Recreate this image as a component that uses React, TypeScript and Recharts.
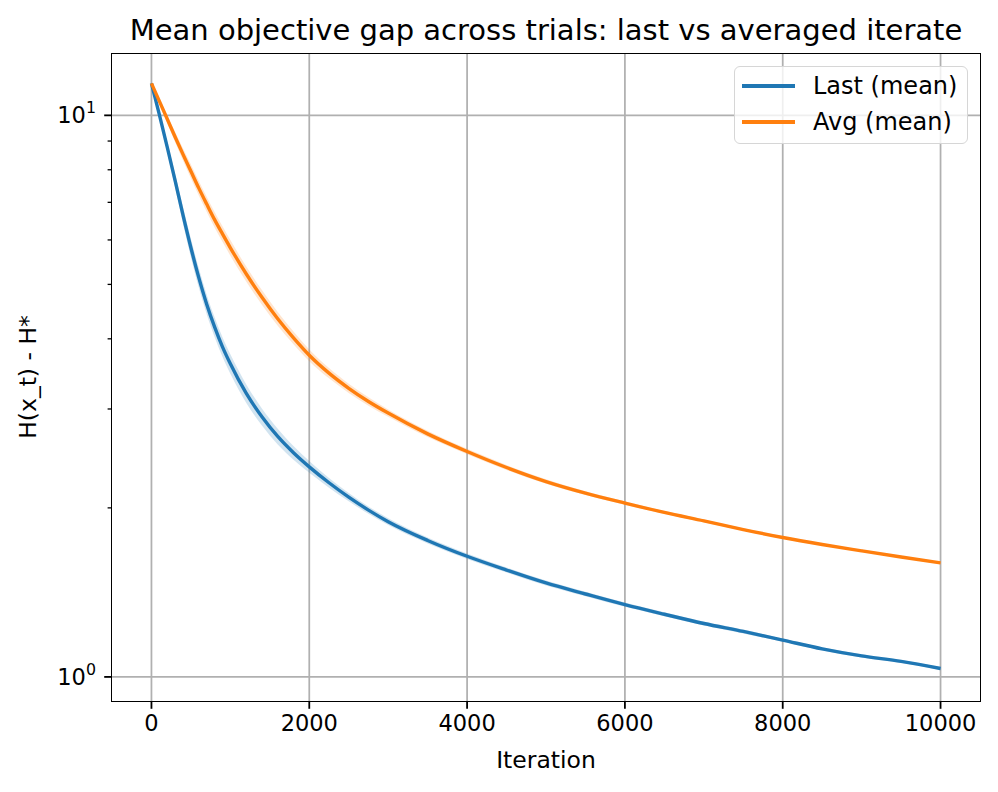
import React from "react"
import { ComposedChart, Line, Area, XAxis, YAxis, CartesianGrid } from "recharts"

const iterations = [
  0, 100, 200, 300, 400, 500, 600, 700, 800, 900, 1000, 1200, 1400, 1600, 1800, 2000, 2250, 2500, 2750,
  3000, 3500, 4000, 4500, 5000, 5500, 6000, 6500, 7000, 7500, 8000, 8500, 9000, 9500, 10000,
]

const lastMean = [
  11.4, 10.03, 8.78, 7.65, 6.64, 5.81, 5.14, 4.61, 4.2, 3.87, 3.61, 3.2, 2.905, 2.68, 2.507, 2.366, 2.217, 2.09,
  1.982, 1.89, 1.75, 1.64, 1.55, 1.47, 1.405, 1.345, 1.293, 1.245, 1.205, 1.163, 1.122, 1.09, 1.066, 1.035,
]

const avgMean = [
  11.4, 10.6, 9.85, 9.15, 8.52, 7.95, 7.42, 6.95, 6.52, 6.15, 5.81, 5.223, 4.743, 4.343, 4.016, 3.74, 3.475,
  3.266, 3.094, 2.95, 2.709, 2.52, 2.36, 2.228, 2.125, 2.04, 1.963, 1.896, 1.83, 1.771, 1.721, 1.677, 1.635,
  1.596,
]

// relative half-width of the shaded bands
const lastSpread = [
  0.005, 0.012, 0.02, 0.028, 0.034, 0.038, 0.04, 0.04, 0.04, 0.04, 0.04, 0.038, 0.035, 0.032, 0.028, 0.024,
  0.02, 0.017, 0.015, 0.014, 0.012, 0.011, 0.01, 0.01, 0.009, 0.009, 0.008, 0.008, 0.008, 0.007, 0.007, 0.007,
  0.006, 0.006,
]

const avgSpread = [
  0.003, 0.01, 0.016, 0.021, 0.025, 0.028, 0.03, 0.031, 0.032, 0.032, 0.032, 0.031, 0.03, 0.028, 0.026, 0.024,
  0.021, 0.019, 0.017, 0.015, 0.013, 0.011, 0.01, 0.009, 0.008, 0.007, 0.006, 0.006, 0.005, 0.005, 0.004, 0.004,
  0.004, 0.004,
]

const xTicks = [0, 2000, 4000, 6000, 8000, 10000]
const yMajor = [1, 10]
const yTicks = [1, 2, 3, 4, 5, 6, 7, 8, 9, 10]

const BLUE = "#1f77b4"
const ORANGE = "#ff7f0e"
const FONT = "DejaVu Sans"
const TICK_FS = 22.5

const data = iterations.map((it, i) => ({
  it,
  last: lastMean[i],
  avg: avgMean[i],
  lastBand: [lastMean[i] * (1 - lastSpread[i]), lastMean[i] * (1 + lastSpread[i])],
  avgBand: [avgMean[i] * (1 - avgSpread[i]), avgMean[i] * (1 + avgSpread[i])],
}))

function YTick(props: any) {
  const { x, y, payload } = props
  const major = yMajor.includes(payload.value)
  if (!major) {
    return <line x1={x - 4.4} x2={x} y1={y} y2={y} stroke="#000" strokeWidth={1.3} />
  }
  const exp = Math.round(Math.log10(payload.value))
  return (
    <g>
      <line x1={x - 7.8} x2={x} y1={y} y2={y} stroke="#000" strokeWidth={1.8} />
      <text x={x - 16} y={y + 8} textAnchor="end" fontFamily={FONT} fontSize={TICK_FS} fill="#000">
        10
        <tspan dy={-10} fontSize={15.8}>{exp}</tspan>
      </text>
    </g>
  )
}

export default function App() {
  return (
    <div style={{ position: "relative", width: 998, height: 792, background: "#fff", fontFamily: FONT }}>
      <style>{"body{margin:0}"}</style>
      <ComposedChart
        width={998}
        height={792}
        data={data}
        margin={{ top: 54, right: 18, left: 0, bottom: 0 }}
      >
        <CartesianGrid
          horizontalValues={yMajor}
          verticalValues={xTicks}
          stroke="#b0b0b0"
          strokeWidth={1.75}
          strokeDasharray=""
        />
        <XAxis
          dataKey="it"
          type="number"
          domain={[-500, 10500]}
          ticks={xTicks}
          allowDataOverflow
          height={91}
          axisLine={false}
          tickSize={7.8}
          tickMargin={6.5}
          tickLine={{ stroke: "#000", strokeWidth: 1.8 }}
          tick={{ fill: "#000", fontSize: TICK_FS, fontFamily: FONT }}
        />
        <YAxis
          scale="log"
          type="number"
          domain={[0.906, 12.86]}
          ticks={yTicks}
          allowDataOverflow
          width={112}
          axisLine={false}
          tickLine={false}
          tickSize={0}
          tickMargin={0}
          interval={0}
          tick={<YTick />}
        />
        <Area type="monotone" dataKey="lastBand" stroke="none" fill={BLUE} fillOpacity={0.2} isAnimationActive={false} />
        <Area type="monotone" dataKey="avgBand" stroke="none" fill={ORANGE} fillOpacity={0.2} isAnimationActive={false} />
        <Line type="monotone" dataKey="last" stroke={BLUE} strokeWidth={3.4} dot={false} isAnimationActive={false} />
        <Line type="monotone" dataKey="avg" stroke={ORANGE} strokeWidth={3.4} dot={false} isAnimationActive={false} />
      </ComposedChart>

      {/* axes frame */}
      <div
        style={{
          position: "absolute",
          left: 111,
          top: 53,
          width: 868,
          height: 647,
          border: "1.8px solid #000",
          pointerEvents: "none",
        }}
      />

      <div
        style={{
          position: "absolute",
          left: 112,
          width: 868,
          top: 13,
          textAlign: "center",
          fontSize: 29,
          color: "#000",
          whiteSpace: "nowrap",
        }}
      >
        Mean objective gap across trials: last vs averaged iterate
      </div>

      <div
        style={{
          position: "absolute",
          left: 112,
          width: 868,
          top: 746,
          textAlign: "center",
          fontSize: 23.5,
          color: "#000",
        }}
      >
        Iteration
      </div>

      <div
        style={{
          position: "absolute",
          left: 28,
          top: 377,
          transform: "translate(-50%, -50%) rotate(-90deg)",
          whiteSpace: "nowrap",
          fontSize: 23.5,
          color: "#000",
        }}
      >
        H(x_t) - H*
      </div>

      {/* legend */}
      <div
        style={{
          position: "absolute",
          left: 734,
          top: 66,
          width: 234,
          height: 78,
          boxSizing: "border-box",
          border: "1.7px solid #d6d6d6",
          borderRadius: 6,
          background: "rgba(255,255,255,0.8)",
          fontSize: 24,
          color: "#000",
        }}
      >
        {[
          { name: "Last (mean)", color: BLUE },
          { name: "Avg (mean)", color: ORANGE },
        ].map((s, i) => (
          <div
            key={s.name}
            style={{ position: "absolute", left: 7, top: 4 + i * 36, height: 30, display: "flex", alignItems: "center" }}
          >
            <div style={{ width: 53, height: 3.4, background: s.color, marginRight: 18 }} />
            <span style={{ whiteSpace: "nowrap" }}>{s.name}</span>
          </div>
        ))}
      </div>
    </div>
  )
}
